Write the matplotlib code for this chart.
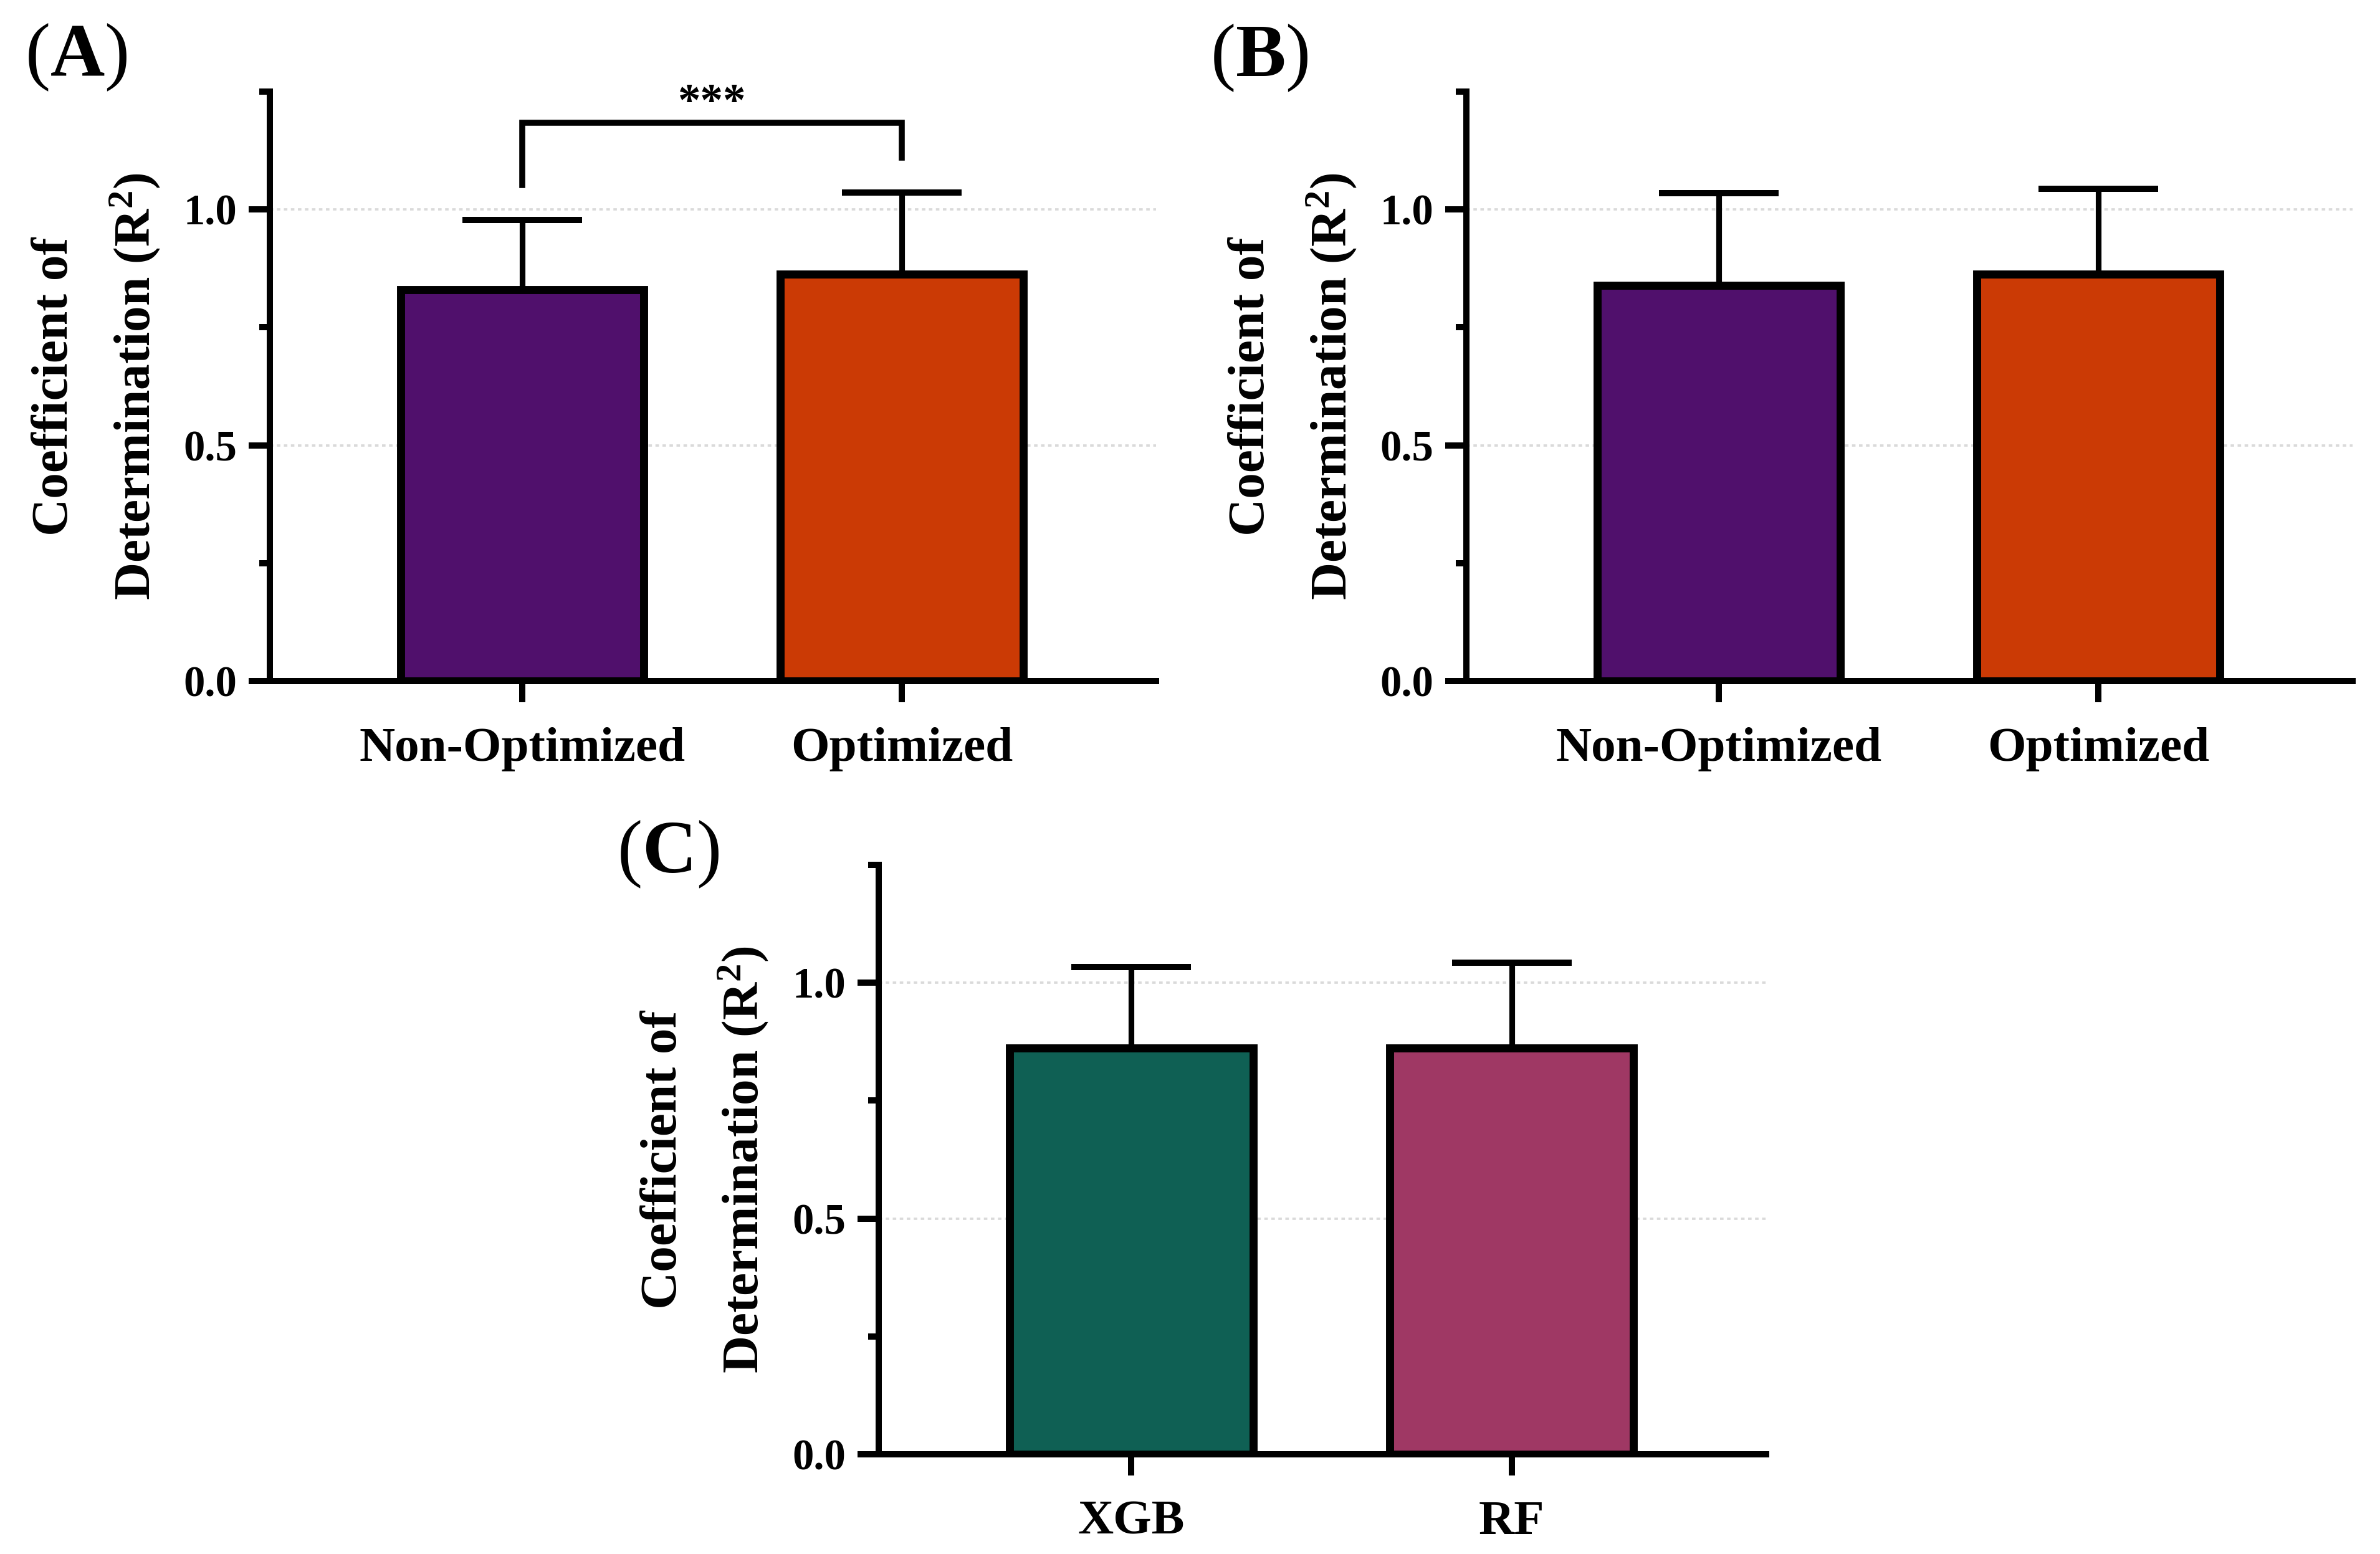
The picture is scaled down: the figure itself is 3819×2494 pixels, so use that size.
import matplotlib
matplotlib.use("Agg")
import matplotlib.pyplot as plt
from matplotlib.ticker import FixedLocator

plt.rcParams['font.family'] = ['Liberation Serif', 'DejaVu Serif']
plt.rcParams['mathtext.fontset'] = 'custom'
plt.rcParams['mathtext.rm'] = 'Liberation Serif'
plt.rcParams['mathtext.bf'] = 'Liberation Serif:bold'
plt.rcParams['mathtext.it'] = 'Liberation Serif:italic'

# data
groups_ab = ["Non-Optimized", "Optimized"]
a_mean = [0.830, 0.863]
a_sd = [0.148, 0.173]
b_mean = [0.839, 0.863]
b_sd = [0.195, 0.181]
groups_c = ["XGB", "RF"]
c_mean = [0.861, 0.861]
c_sd = [0.172, 0.181]

colors_ab = ["#50106C", "#CB3A05"]
colors_c = ["#0F6054", "#9F3864"]

# significance bracket in panel A
sig_label = "***"
sig_bar_y = 1.184
sig_leg_ends = [1.052, 1.110]

YLABEL = "Coefficient of\nDetermination (R$^{\\mathbf{2}}$)"

W, H = 3819, 2494
DPI = 300
fig = plt.figure(figsize=(W / DPI, H / DPI), dpi=DPI)


def px_axes(left, right, bottom, top):
    return fig.add_axes([left / W, 1 - bottom / H, (right - left) / W, (bottom - top) / H])


def draw_panel(ax, groups, means, sds, colors):
    x = list(range(len(groups)))
    ax.bar(x, means, width=0.64, color=colors, edgecolor="black", linewidth=3.1, zorder=3)
    ax.errorbar(x, means, yerr=[[0] * len(sds), sds], fmt="none", ecolor="black",
                elinewidth=2.2, capsize=23, capthick=2.4, zorder=2)
    ax.set_xlim(-0.664, 1.669)
    ax.set_ylim(0, 1.25)
    ax.set_xticks(x)
    ax.set_xticklabels(groups, fontsize=19, fontweight="bold")
    ax.yaxis.set_major_locator(FixedLocator([0, 0.5, 1.0]))
    ax.yaxis.set_minor_locator(FixedLocator([0.25, 0.75, 1.25]))
    ax.set_yticklabels(["0.0", "0.5", "1.0"], fontsize=16.5, fontweight="bold")
    ax.tick_params(axis="both", which="major", length=8.2, width=2.4)
    ax.tick_params(axis="x", which="major", pad=9.5)
    ax.tick_params(axis="y", which="major", pad=4.5)
    ax.tick_params(axis="y", which="minor", length=4.2, width=2.4)
    for side in ["top", "right"]:
        ax.spines[side].set_visible(False)
    for side in ["left", "bottom"]:
        ax.spines[side].set_linewidth(2.4)
    ax.yaxis.grid(True, which="major", color="#dadada", linestyle=(0, (1.5, 1.5)), linewidth=0.9)
    ax.set_axisbelow(True)
    ax.set_ylabel(YLABEL, fontsize=20, fontweight="bold", linespacing=1.7)
    ax.yaxis.set_label_coords(-0.122, 0.5)


ax_a = px_axes(433, 1855, 1093, 147)
ax_b = px_axes(2353, 3775, 1093, 147)
ax_c = px_axes(1410, 2834, 2334, 1388)

draw_panel(ax_a, groups_ab, a_mean, a_sd, colors_ab)
draw_panel(ax_b, groups_ab, b_mean, b_sd, colors_ab)
draw_panel(ax_c, groups_c, c_mean, c_sd, colors_c)

# bracket with stars
ax_a.plot([0, 0, 1, 1], [sig_leg_ends[0], sig_bar_y, sig_bar_y, sig_leg_ends[1]],
          color="black", linewidth=2.3, clip_on=False, zorder=4, solid_joinstyle="miter")
ax_a.text(0.5, 1.200, sig_label, ha="center", va="baseline", fontsize=17.5,
          fontweight="bold", clip_on=False)

# panel letters
for letter, (lx, ly) in zip("ABC", [(40, 121), (1942, 122), (990, 1400)]):
    fig.text(lx / W, 1 - ly / H, "$(\\mathbf{%s})$" % letter, fontsize=29,
             ha="left", va="baseline")

fig.savefig("out.png", dpi=DPI)
